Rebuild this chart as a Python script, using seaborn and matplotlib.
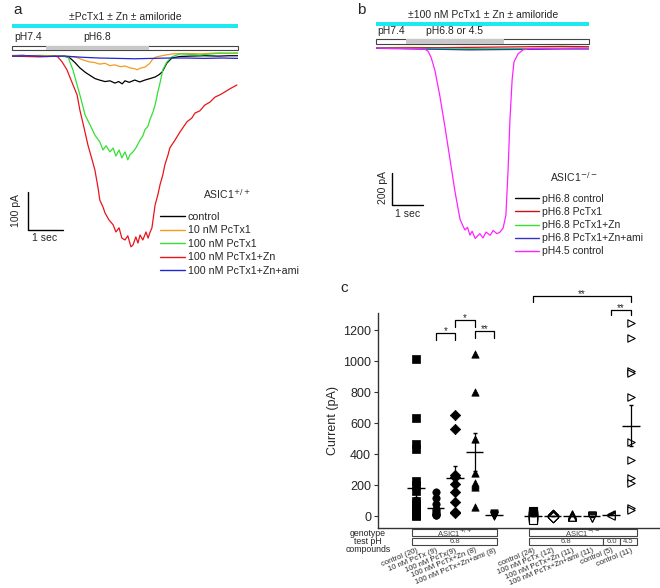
import seaborn as sns
import pandas as pd
import numpy as np
import matplotlib
matplotlib.use("Agg")
import matplotlib.pyplot as plt
from matplotlib.lines import Line2D
from matplotlib.patches import Rectangle

# ---------- panel a : ASIC1+/+ traces (time s, current pA)
a_names = ["control", "10 nM PcTx1", "100 nM PcTx1", "100 nM PcTx1+Zn", "100 nM PcTx1+Zn+ami"]
a_colors = ["black", "#f39c1f", "#33e033", "#e8141b", "#2323d8"]

ctrl_t = [0, 0.3, 0.6, 0.9, 1.2, 1.5, 1.66, 1.8, 1.94, 2.1, 2.25, 2.37, 2.5, 2.66, 2.8, 2.94, 3.05, 3.15,
          3.23, 3.35, 3.51, 3.65, 3.8, 3.95, 4.09, 4.2, 4.29, 4.43, 4.57, 4.8, 5.1, 5.5, 5.9, 6.2, 6.46]
ctrl_i = [-2, -1, -3, -2, -2, -3, -8, -20, -34, -46, -55, -62, -66, -70, -68, -74, -70, -76,
          -68, -72, -66, -71, -66, -62, -58, -52, -45, -21, -8, -4, -3, -2, -3, -2, -2]
p10_t = [0, 0.4, 0.8, 1.2, 1.5, 1.8, 2.0, 2.2, 2.37, 2.5, 2.66, 2.8, 2.94, 3.1, 3.23, 3.37,
         3.5, 3.58, 3.66, 3.8, 3.94, 4.0, 4.1, 4.23, 4.4, 4.6, 5.0, 5.4, 5.8, 6.2, 6.46]
p10_i = [-1, -2, -1, -2, -3, -5, -12, -18, -20, -24, -22, -28, -26, -31, -29, -34,
         -36, -39, -35, -32, -22, -13, -6, -3, 0, 3, 4, 3, 5, 4, 5]
p100_t = [0, 0.8, 1.37, 1.6, 1.74, 1.94, 2.09, 2.23, 2.37, 2.51, 2.6, 2.69, 2.8, 2.89, 2.97, 3.06,
          3.14, 3.23, 3.31, 3.37, 3.46, 3.54, 3.66, 3.74, 3.8, 3.89, 3.94, 4.03, 4.09, 4.17, 4.23,
          4.31, 4.43, 4.57, 4.8, 5.37, 5.94, 6.46]
p100_i = [-3, -3, -3, -5, -39, -105, -158, -184, -211, -229, -250, -239, -255, -245, -266, -250,
          -271, -255, -276, -263, -255, -245, -224, -213, -197, -187, -171, -150, -132, -97, -74,
          -39, -18, -5, 3, 0, 5, 5]
zn_t = [0, 0.8, 1.23, 1.31, 1.43, 1.57, 1.71, 1.86, 1.94, 2.06, 2.17, 2.29, 2.37, 2.46, 2.51, 2.6,
        2.66, 2.77, 2.89, 2.97, 3.06, 3.14, 3.23, 3.31, 3.4, 3.46, 3.54, 3.6, 3.66, 3.74, 3.83, 3.89,
        3.94, 4.0, 4.09, 4.17, 4.23, 4.31, 4.37, 4.46, 4.51, 4.66, 4.8, 5.0, 5.14, 5.23, 5.37, 5.51,
        5.66, 5.8, 5.94, 6.09, 6.23, 6.43]
zn_i = [-3, -5, -3, -5, -18, -39, -71, -105, -145, -192, -237, -276, -303, -350, -382, -400,
        -416, -434, -447, -466, -455, -482, -487, -476, -505, -500, -479, -495, -474, -487, -466, -482,
        -468, -455, -395, -368, -342, -316, -289, -263, -245, -224, -203, -176, -166, -153, -147, -132,
        -124, -111, -105, -97, -89, -79]
ami_t = [0, 0.5, 1, 1.5, 2, 2.5, 3, 3.5, 4, 4.5, 5, 5.5, 6, 6.46]
ami_i = [-3, -2, -4, -3, -6, -8, -9, -10, -9, -8, -8, -9, -8, -9]

# ---------- panel b : ASIC1-/- traces
b_names = ["pH6.8 control", "pH6.8 PcTx1", "pH6.8 PcTx1+Zn", "pH6.8 PcTx1+Zn+ami", "pH4.5 control"]
b_colors = ["black", "#d01010", "#33e033", "#3535c8", "#ff22ff"]
b_t = [0, 1, 2, 3, 4, 5, 6, 6.87]
b_ctrl_i = [0, -3, -5, -6, -5, -4, -3, -3]
b_pctx_i = [2, 3, 2, 4, 6, 8, 10, 8]
b_zn_i = [0, -2, -3, -4, -4, -3, -2, -2]
b_ami_i = [-2, -5, -8, -12, -10, -8, -6, -6]
ph45_t = [0, 0.5, 1.0, 1.4, 1.58, 1.68, 1.78, 1.9, 2.06, 2.23, 2.39, 2.55, 2.71, 2.8, 2.87, 2.95, 3.03,
          3.1, 3.2, 3.35, 3.45, 3.55, 3.68, 3.78, 3.9, 4.0, 4.1, 4.19, 4.26, 4.32, 4.39, 4.45, 4.58,
          4.74, 4.97, 5.5, 6.0, 6.5, 6.87]
ph45_i = [0, -3, -2, -5, -8, -20, -60, -140, -300, -500, -700, -900, -1070, -1110, -1137, -1120, -1169,
          -1145, -1190, -1160, -1187, -1150, -1170, -1140, -1160, -1150, -1125, -1044, -762, -450, -200, -87,
          -37, -12, -3, -2, -3, -1, -2]

# ---------- panel c : peak currents
c_labels = ["control (20)", "10 nM PcTx (9)", "100 nM PcTx(9)", "100 nM PcTx+Zn (8)",
            "100 nM PcTx+Zn+ami (8)", "control (24)", "100 nM PcTx (12)", "100 nM PcTx+Zn (11)",
            "100 nM PcTx+Zn+ami (11)", "control (5)", "control (11)"]
c_pos = [0, 1, 2, 3, 4, 6, 7, 8, 9, 10, 11]
c_markers = ["s", "o", "D", "^", "v", "s", "D", "^", "v", "<", ">"]
c_filled = [True] * 5 + [False] * 6
c_values = [
    [1015, 632, 465, 432, 226, 200, 160, 95, 80, 70, 60, 50, 40, 30, 25, 20, 15, 10, 5, 0],
    [155, 115, 75, 45, 30, 20, 15, 10, 5],
    [650, 560, 265, 255, 210, 155, 90, 25, 20],
    [1045, 800, 500, 275, 215, 200, 190, 60],
    [20, 15, 10, 10, 5, 5, 0, 0],
    [30, 25, 20, 15, 12, 10, 8, 5, 5, 3, 2, 0, 0, -2, -3, -5, -5, -8, -10, -12, -15, -18, -22, -28],
    [10, 8, 5, 3, 2, 0, 0, -2, -3, -5, -6, -8],
    [12, 8, 5, 3, 0, 0, -2, -3, -5, -6, -8],
    [5, 3, 2, 0, 0, -2, -3, -5, -8, -10, -12],
    [15, 10, 8, 5, 2],
    [1245, 1148, 935, 920, 768, 477, 361, 245, 213, 52, 39],
]

sns.set_theme(style="white")
plt.rcParams["font.family"] = ["Liberation Sans", "DejaVu Sans"]

W, H = 660, 588
fig = plt.figure(figsize=(6.6, 5.88), dpi=100)


def px_axes(x0, y0, x1, y1):
    return fig.add_axes([x0 / W, 1 - y1 / H, (x1 - x0) / W, (y1 - y0) / H])


ov = px_axes(0, 0, W, H)
ov.set_xlim(0, W)
ov.set_ylim(H, 0)
ov.axis("off")

# ---- panel a
ax_a = px_axes(12, 47, 238, 262)
df_a = pd.concat([pd.DataFrame({"time": t, "current": i, "condition": n})
                  for n, t, i in zip(a_names, [ctrl_t, p10_t, p100_t, zn_t, ami_t],
                                     [ctrl_i, p10_i, p100_i, zn_i, ami_i])])
sns.lineplot(data=df_a, x="time", y="current", hue="condition", hue_order=a_names,
             palette=a_colors, estimator=None, sort=False, lw=0.9, legend=False, ax=ax_a)
ax_a.set_xlim(0, 6.46)
ax_a.set_ylim(-545, 21)
ax_a.axis("off")
ax_a.plot([0.46, 0.46, 1.46], [-360, -460, -460], color="black", lw=1, clip_on=False)

ov.text(13, 10, "a", fontsize=11, va="center")
ov.text(125, 17, "±PcTx1 ± Zn ± amiloride", fontsize=7.5, ha="center", va="center")
ov.add_patch(Rectangle((12, 24), 226, 4, color="#1ee8f0", lw=0))
ov.text(14, 37, "pH7.4", fontsize=7.5, va="center")
ov.text(83, 37, "pH6.8", fontsize=7.5, va="center")
ov.add_patch(Rectangle((12, 45.5), 226, 4.5, facecolor="white", edgecolor="#444444", lw=0.8))
ov.add_patch(Rectangle((46, 45.5), 103, 4.5, facecolor="#c8c8c8", edgecolor="none"))
ov.text(16, 211, "100 pA", fontsize=7.5, rotation=90, ha="center", va="center")
ov.text(45, 238, "1 sec", fontsize=7.5, ha="center", va="center")
ov.text(203, 194, r"ASIC1$^{+/+}$", fontsize=7.5, va="center")
ax_a.legend([Line2D([], [], color=c, lw=1) for c in a_colors], a_names, loc="upper left",
            bbox_to_anchor=(160 / W, 1 - 212 / H), bbox_transform=fig.transFigure, frameon=False,
            fontsize=7.7, borderpad=0, borderaxespad=0, handlelength=2.3, handletextpad=0.3,
            labelspacing=0.32)

# ---- panel b
ax_b = px_axes(376, 44, 589, 250)
df_b = pd.concat([pd.DataFrame({"time": t, "current": i, "condition": n})
                  for n, t, i in zip(b_names, [b_t, b_t, b_t, b_t, ph45_t],
                                     [b_ctrl_i, b_pctx_i, b_zn_i, b_ami_i, ph45_i])])
sns.lineplot(data=df_b, x="time", y="current", hue="condition", hue_order=b_names,
             palette=b_colors, estimator=None, sort=False, lw=0.9, legend=False, ax=ax_b)
ax_b.set_xlim(0, 6.87)
ax_b.set_ylim(-1262, 25)
ax_b.axis("off")
ax_b.plot([0.52, 0.52, 1.52], [-781, -981, -981], color="black", lw=1, clip_on=False)

ov.text(357, 10, "b", fontsize=11, va="center")
ov.text(483, 15, "±100 nM PcTx1 ± Zn ± amiloride", fontsize=7.5, ha="center", va="center")
ov.add_patch(Rectangle((376, 21.5), 213, 4, color="#1ee8f0", lw=0))
ov.text(377, 31, "pH7.4", fontsize=7.5, va="center")
ov.text(426, 31, "pH6.8 or 4.5", fontsize=7.5, va="center")
ov.add_patch(Rectangle((376, 39), 213, 4.5, facecolor="white", edgecolor="#444444", lw=0.8))
ov.add_patch(Rectangle((406, 39), 98, 4.5, facecolor="#c8c8c8", edgecolor="none"))
ov.text(383, 188, "200 pA", fontsize=7.5, rotation=90, ha="center", va="center")
ov.text(408, 214, "1 sec", fontsize=7.5, ha="center", va="center")
ov.text(550, 177, r"ASIC1$^{-/-}$", fontsize=7.5, va="center")
ax_b.legend([Line2D([], [], color=c, lw=1) for c in b_colors], b_names, loc="upper left",
            bbox_to_anchor=(515 / W, 1 - 194 / H), bbox_transform=fig.transFigure, frameon=False,
            fontsize=7.5, borderpad=0, borderaxespad=0, handlelength=2.3, handletextpad=0.3,
            labelspacing=0.3)

# ---- panel c
ax_c = px_axes(378, 313, 660, 528)
ax_c.set_facecolor("none")
df_c = pd.concat([pd.DataFrame({"pos": p, "current": v, "group": g})
                  for p, v, g in zip(c_pos, c_values, c_labels)])
for g, p, m, f in zip(c_labels, c_pos, c_markers, c_filled):
    sub = df_c[df_c["group"] == g]
    if f:
        sns.scatterplot(data=sub, x="pos", y="current", marker=m, s=28, color="black",
                        edgecolor="black", linewidth=0.5, legend=False, ax=ax_c, zorder=3, clip_on=False)
    else:
        sns.scatterplot(data=sub, x="pos", y="current", marker=m, s=28, facecolor="white",
                        edgecolor="black", linewidth=0.8, legend=False, ax=ax_c, zorder=3, clip_on=False)
    mean = sub["current"].mean()
    sem = sub["current"].std() / np.sqrt(len(sub))
    ax_c.hlines(mean, p - 0.45, p + 0.45, color="black", lw=1, zorder=4)
    ax_c.errorbar(p, mean, yerr=sem, fmt="none", ecolor="black", elinewidth=0.9, capsize=1.5, zorder=4)

ax_c.set_xlim(-1.95, 12.5)
ax_c.set_ylim(-77, 1310)
ax_c.set_yticks(range(0, 1201, 200))
ax_c.set_xticks(c_pos)
ax_c.set_xticklabels(c_labels, rotation=22, ha="right", rotation_mode="anchor", fontsize=5.5)
ax_c.tick_params(axis="x", length=0, pad=13.5)
ax_c.tick_params(axis="y", left=True, length=3, width=0.8, labelsize=9, pad=2, color="#333333")
ax_c.set_xlabel("")
ax_c.set_ylabel("Current (pA)", fontsize=9, labelpad=3)
sns.despine(ax=ax_c)
for sp in ["left", "bottom"]:
    ax_c.spines[sp].set_color("#333333")
    ax_c.spines[sp].set_linewidth(1)


def bracket(x0, x1, ytop, yleg, label):
    ax_c.plot([x0, x0, x1, x1], [yleg, ytop, ytop, yleg], color="black", lw=0.9, clip_on=False)
    ax_c.text((x0 + x1) / 2, ytop - 8, label, ha="center", va="baseline", fontsize=7)


bracket(1, 2, 1181, 1135, "*")
bracket(2, 3, 1265, 1219, "*")
bracket(3, 4, 1194, 1148, "**")
bracket(10, 11, 1329, 1297, "**")
bracket(6, 11, 1419, 1381, "**")

ov.text(340, 288, "c", fontsize=11, va="center")
for y, s in zip([533, 541, 549], ["genotype", "test pH", "compounds"]):
    ov.text(368, y, s, fontsize=6.3, ha="center", va="center")
for x0, x1, y0, s in [(412, 497, 529, r"ASIC1$^{+/+}$"), (412, 497, 538, "6.8"),
                      (529, 637, 529, r"ASIC1$^{-/-}$"), (529, 603, 538, "6.8"),
                      (603, 620, 538, "6.0"), (620, 637, 538, "4.5")]:
    ov.add_patch(Rectangle((x0, y0), x1 - x0, 7, facecolor="white", edgecolor="#444444", lw=0.8))
    ov.text((x0 + x1) / 2, y0 + 3.6, s, fontsize=5.5, ha="center", va="center", color="#444444")

plt.savefig("out.png", dpi=100)
